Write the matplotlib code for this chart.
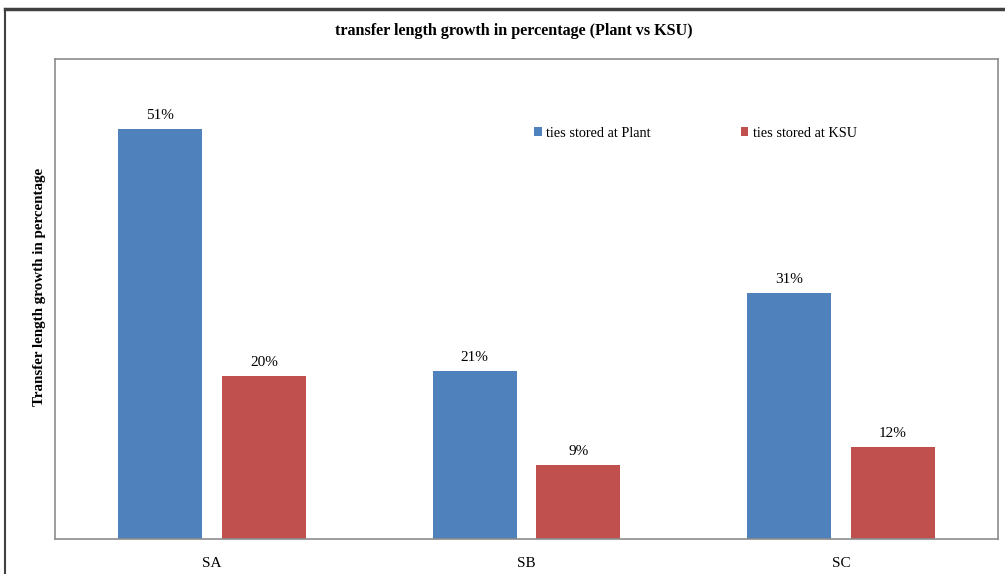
import matplotlib
matplotlib.use("Agg")
import matplotlib.pyplot as plt
from matplotlib.lines import Line2D
import numpy as np

categories = ["SA", "SB", "SC"]
plant_values = [51.0, 20.9, 30.6]
ksu_values = [20.3, 9.2, 11.4]
plant_labels = ["51%", "21%", "31%"]
ksu_labels = ["20%", "9%", "12%"]
series_names = ["ties stored at Plant", "ties stored at KSU"]

plt.rcParams['font.family'] = ['Liberation Serif', 'DejaVu Serif']

W, H = 1005, 574
fig = plt.figure(figsize=(W / 100, H / 100), dpi=100)
fig.patch.set_facecolor("white")

# plot area: x 55..998, y 59..539 (pixels from top)
left, right, top, bottom = 55, 998, 59, 539
ax = fig.add_axes([left / W, 1 - bottom / H, (right - left) / W, (bottom - top) / H])

x = np.arange(len(categories))
bw = 0.267
off = 0.165
blue = "#4F81BD"
red = "#C0504D"
b1 = ax.bar(x - off, plant_values, bw, color=blue, label=series_names[0])
b2 = ax.bar(x + off, ksu_values, bw, color=red, label=series_names[1])

for bars, labels in ((b1, plant_labels), (b2, ksu_labels)):
    for rect, lab in zip(bars, labels):
        ax.annotate(lab, (rect.get_x() + rect.get_width() / 2, rect.get_height()),
                    xytext=(0, 5), textcoords="offset points", ha="center", va="bottom",
                    fontsize=11)

ax.set_xlim(-0.5, 2.5)
ax.set_ylim(0, 59.7)
ax.set_xticks(x)
ax.set_xticklabels(categories, fontsize=11)
ax.tick_params(axis="x", length=0, pad=13)
ax.set_yticks([])
for s in ax.spines.values():
    s.set_color("#8c8c8c")
    s.set_linewidth(1.2)

ax.set_ylabel("Transfer length growth in percentage", fontsize=10.8, fontweight="bold")
ax.yaxis.set_label_coords(-(left - 46) / (right - left), (bottom - 287) / (bottom - top))

leg = ax.legend(loc="upper left", bbox_to_anchor=(473 / (right - left), 1 - 62 / (bottom - top)),
                ncol=2, frameon=False, fontsize=10.3, handlelength=0.55, handleheight=0.55,
                handletextpad=0.3, columnspacing=6.3, borderaxespad=0)

fig.text(514 / W, 1 - 31 / H, "transfer length growth in percentage (Plant vs KSU)",
         ha="center", va="center", fontsize=11.6, fontweight="bold")

# outer chart border
fig.add_artist(Line2D([5 / W, 5 / W], [0, 1 - 9 / H], transform=fig.transFigure,
                      color="#404040", lw=1.5))
fig.add_artist(Line2D([5 / W, 1], [1 - 9 / H, 1 - 9 / H], transform=fig.transFigure,
                      color="#404040", lw=2.5))

fig.savefig("out.png", dpi=100, facecolor="white")
